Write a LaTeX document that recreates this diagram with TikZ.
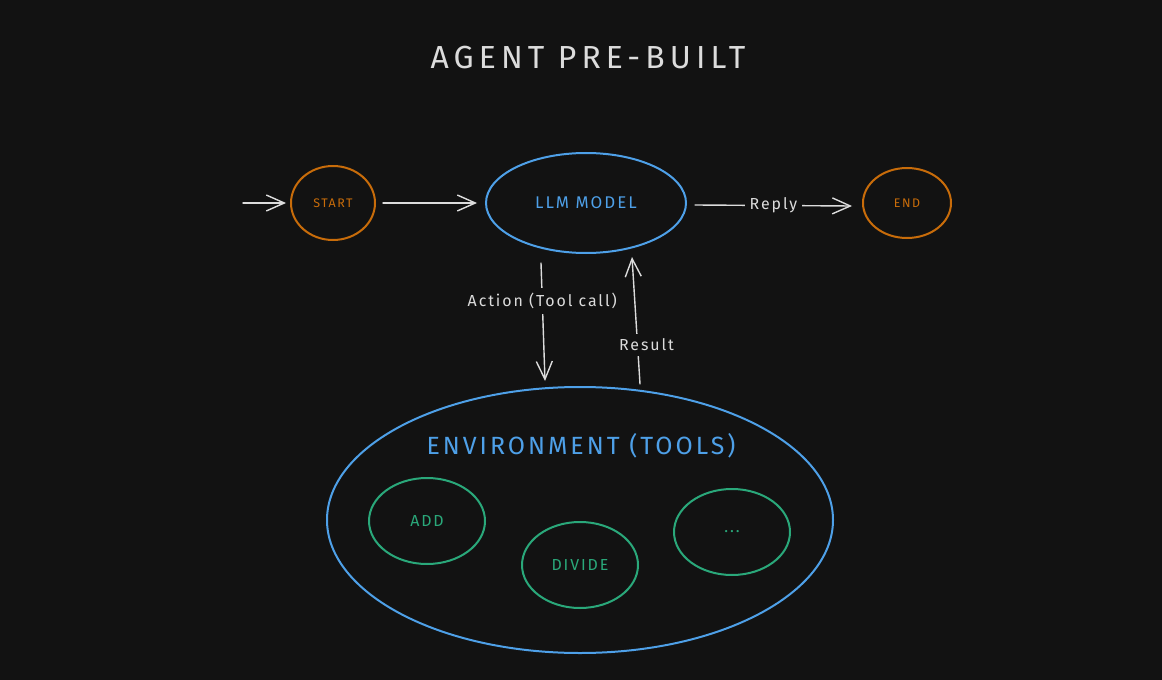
\documentclass[tikz,border=0pt]{standalone}
\usepackage{fontspec}
\setmainfont[LetterSpace=12]{Fira Sans}
\usetikzlibrary{arrows.meta,shapes.geometric,calc}
\definecolor{bg}{RGB}{18,18,18}
\definecolor{txt}{RGB}{220,220,220}
\definecolor{orng}{RGB}{200,108,10}
\definecolor{blu}{RGB}{78,160,232}
\definecolor{grn}{RGB}{42,168,122}
\tikzset{
  arr/.style={draw=txt, line width=1.4bp, line cap=round, -{Straight Barb[length=18bp,width=16bp,line width=1.4bp]}},
  lbl/.style={fill=bg, text=txt, font=\fontsize{16}{18}\selectfont, inner sep=5bp},
  termnode/.style={ellipse, draw=orng, line width=2bp, text=orng, font=\fontsize{12.5}{14}\selectfont},
  llmnode/.style={ellipse, draw=blu, line width=2bp, text=blu, font=\fontsize{17}{19}\selectfont},
  envnode/.style={ellipse, draw=blu, line width=2bp},
  toolnode/.style={ellipse, draw=grn, line width=2bp, text=grn, font=\fontsize{16}{18}\selectfont, minimum width=116bp, minimum height=86bp},
}
\begin{document}
\begin{tikzpicture}[x=1bp,y=-1bp]
\useasboundingbox (0,0) rectangle (1162,680);
\fill[bg] (0,0) rectangle (1162,680);
\node[text=txt, font=\fontsize{32}{36}\selectfont\addfontfeature{LetterSpace=16}] (title) at (588,58) {AGENT PRE-BUILT};

\node[termnode, minimum width=84bp, minimum height=74bp] (start) at (333,203) {START};
\node[llmnode, minimum width=200bp, minimum height=100bp] (llm) at (586,203) {LLM MODEL};
\node[termnode, minimum width=88bp, minimum height=70bp] (end) at (907,203) {END};

\node[envnode, minimum width=506bp, minimum height=266bp] (env) at (580,520) {};
\node[text=blu, font=\fontsize{25}{28}\selectfont] (envlbl) at (581,446) {ENVIRONMENT (TOOLS)};
\node[toolnode] (add) at (427,521) {ADD};
\node[toolnode] (div) at (580,565) {DIVIDE};
\node[toolnode] (more) at (732,532) {...};

\coordinate (in) at (243,203);
\draw[arr] (in) -- ([xshift=-4bp]start.west);
\draw[arr] ([xshift=7bp]start.east) -- ([xshift=-8bp]llm.west);
\draw[arr] ([xshift=8bp,yshift=-2bp]llm.east) -- node[lbl]{Reply} ([xshift=-10bp,yshift=-3bp]end.west);
\draw[arr] ([xshift=-45bp,yshift=-9bp]llm.south) -- node[lbl, pos=0.32]{Action (Tool call)} ([xshift=-35bp,yshift=5bp]env.north);
\draw[arr] ([xshift=60bp,yshift=2bp]env.north) -- node[lbl, pos=0.31, xshift=9bp]{Result} ([xshift=46bp,yshift=-3bp]llm.south);
\end{tikzpicture}
\end{document}
